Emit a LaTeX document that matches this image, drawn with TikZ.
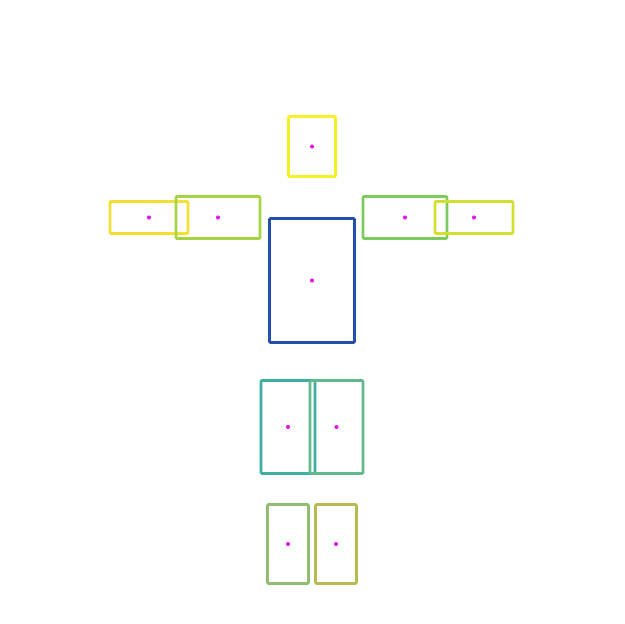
\documentclass[tikz,border=0pt]{standalone}
\definecolor{cyel}{HTML}{F2F224}
\definecolor{cyelL}{HTML}{F2E130}
\definecolor{cyelR}{HTML}{D4E030}
\definecolor{cgrnL}{HTML}{A6D443}
\definecolor{cgrnR}{HTML}{7BCC5C}
\definecolor{cblue}{HTML}{2150AC}
\definecolor{ctealL}{HTML}{3BAFA2}
\definecolor{ctealR}{HTML}{63B98E}
\definecolor{cbotL}{HTML}{92BC72}
\definecolor{cbotR}{HTML}{B9BB52}
\definecolor{cdot}{HTML}{E020E0}
\tikzset{
  box/.style={draw=#1, line width=2.6pt, rounded corners=1pt, inner sep=0pt, outer sep=0pt},
  ctr/.style={circle, fill=cdot, inner sep=0pt, minimum size=4.2pt}
}
\begin{document}
\begin{tikzpicture}[x=1pt, y=-1pt]
\useasboundingbox (0,0) rectangle (624,624);
\node[box=cyelL, minimum width=78pt, minimum height=32pt] (yl) at (149,217.5) {};
\node[box=cgrnL, minimum width=84pt, minimum height=42pt] (gl) at (218,217.5) {};
\node[box=cgrnR, minimum width=84pt, minimum height=42pt] (gr) at (405,217.5) {};
\node[box=cyelR, minimum width=78pt, minimum height=32pt] (yr) at (474,217.5) {};
\node[box=cyel, minimum width=47pt, minimum height=60pt] (yt) at (312,146.5) {};
\node[box=cblue, minimum width=85pt, minimum height=124pt] (bl) at (312,280.5) {};
\node[box=ctealL, minimum width=54pt, minimum height=93pt] (tl) at (288,427) {};
\node[box=ctealR, minimum width=53pt, minimum height=93pt] (tr) at (336.5,427) {};
\node[box=cbotL, minimum width=41pt, minimum height=79pt] (bbl) at (288,544) {};
\node[box=cbotR, minimum width=41pt, minimum height=79pt] (bbr) at (336,544) {};
\foreach \n in {yl,gl,gr,yr,yt,bl,tl,tr,bbl,bbr}{
  \node[ctr] (d\n) at (\n.center) {};
}
\end{tikzpicture}
\end{document}
